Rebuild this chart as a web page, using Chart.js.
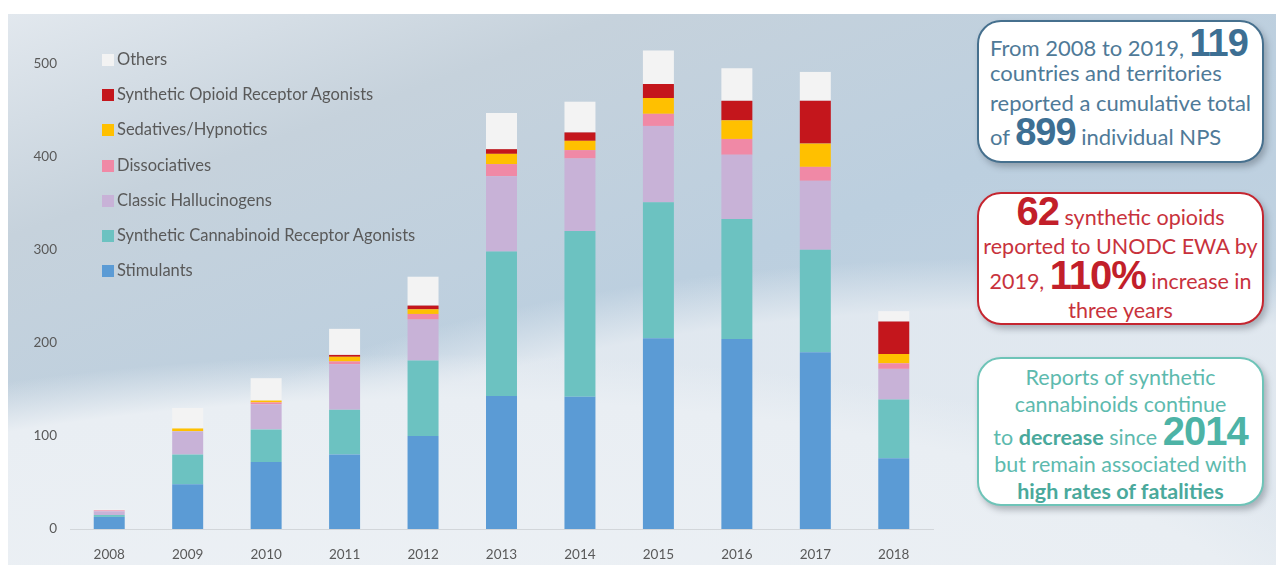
<!DOCTYPE html>
<html>
<head>
<meta charset="utf-8">
<script src="https://cdn.jsdelivr.net/npm/chart.js@4.4.1/dist/chart.umd.min.js"></script>
<style>
  html, body { margin: 0; padding: 0; background: #fff; }
  body { width: 1276px; height: 565px; position: relative; overflow: hidden; font-family: Lato, "Noto Sans", sans-serif; }
  #bg {
    position: absolute; left: 8px; top: 14px; width: 1268px; height: 551px;
    background:
      radial-gradient(ellipse 1000px 300px at 420px 640px, #edf1f5 0%, #e9eef3 85%, rgba(233,238,243,0) 100%),
      radial-gradient(ellipse 1300px 520px at 1000px 660px, rgba(226,233,240,0.95) 70%, rgba(226,233,240,0) 80%),
      linear-gradient(160deg, #e2e8ee 0%, #c6d2dc 22%, #bccfdf 50%, #c6d6e4 100%);
  }
  #wrap { position: absolute; left: 0; top: 0; width: 960px; height: 565px; }
  #legend { position: absolute; left: 102px; top: 49px; }
  .li { height: 35.2px; display: flex; align-items: flex-start; font-size: 16.5px; color: #595959; white-space: nowrap; }
  .li span.sw { width: 12px; height: 12px; margin: 5px 3px 0 0; display: inline-block; flex: none; }
  .box {
    position: absolute; left: 977px; width: 287px; background: #fff;
    border-radius: 24px; border: 2px solid; box-sizing: border-box;
    box-shadow: 3px 4px 6px rgba(60, 70, 80, 0.35);
  }
  #b1 { top: 20px; height: 143px; border-color: #46708e; color: #4f7a98; font-size: 22px; line-height: 29.5px; padding: 6px 0 0 11px; white-space: nowrap; }
  #b2 { top: 192px; height: 133px; border-color: #c52630; color: #c8323c; font-size: 21.5px; line-height: 29px; text-align: center; padding-top: 3px; }
  #b3 { top: 357px; height: 149px; border-color: #6ec4b8; color: #5dbaae; font-size: 21.5px; line-height: 27px; text-align: center; padding-top: 5px; }
  .big { font-family: "Liberation Sans", Arial, sans-serif; font-weight: bold; letter-spacing: -1px; }
  #b1 .big { font-size: 38px; color: #3d6f93; }
  #b2 .big { font-size: 40px; color: #c21f2a; }
  #b3 .big { font-size: 40px; color: #4db3a6; }
  #b3 b { color: #4aa99c; }
  #b2 .l, #b3 div { white-space: nowrap; }
</style>
</head>
<body>
<div id="bg"></div>
<div id="wrap"><canvas id="chart" width="960" height="565"></canvas></div>
<div id="legend"></div>

<div class="box" id="b1">
  <div style="height:30px;line-height:30px">From 2008 to 2019, <span class="big">119</span></div>
  <div>countries and territories</div>
  <div>reported a cumulative total</div>
  <div style="height:30px;line-height:30px">of <span class="big">899</span> individual NPS</div>
</div>
<div class="box" id="b2">
  <div class="l"><span class="big">62</span> synthetic opioids</div>
  <div class="l">reported to UNODC EWA by</div>
  <div class="l">2019, <span class="big">110%</span> increase in</div>
  <div class="l">three years</div>
</div>
<div class="box" id="b3">
  <div>Reports of synthetic</div>
  <div>cannabinoids continue</div>
  <div>to <b>decrease</b> since <span class="big">2014</span></div>
  <div>but remain associated with</div>
  <div><b>high rates of fatalities</b></div>
</div>

<script>
const years = ['2008', '2009', '2010', '2011', '2012', '2013', '2014', '2015', '2016', '2017', '2018'];
const seriesNames = ['Stimulants', 'Synthetic Cannabinoid Receptor Agonists', 'Classic Hallucinogens',
  'Dissociatives', 'Sedatives/Hypnotics', 'Synthetic Opioid Receptor Agonists', 'Others'];
const seriesColors = ['#5b9bd5', '#6cc2c1', '#c8b2d7', '#f089a6', '#ffc000', '#c4161c', '#f3f3f3'];

const stimulants    = [13, 48, 72, 80, 100, 143, 142, 205, 204, 190, 76];
const cannabinoids  = [2, 32, 35, 48, 81, 155, 178, 146, 129, 110, 63];
const hallucinogens = [4, 25, 27, 49, 44, 81, 78, 82, 69, 74, 33];
const dissociatives = [1, 0, 2, 3, 6, 13, 9, 13, 17, 15, 6];
const sedatives     = [0, 3, 2, 5, 5, 11, 10, 17, 20, 25, 10];
const opioids       = [0, 0, 0, 2, 4, 5, 9, 15, 21, 46, 35];
const others        = [1, 22, 24, 28, 31, 39, 33, 36, 35, 31, 11];

const seriesValues = [stimulants, cannabinoids, hallucinogens, dissociatives, sedatives, opioids, others];

const datasets = seriesNames.map((name, i) => ({
  label: name,
  data: seriesValues[i],
  backgroundColor: seriesColors[i],
  borderWidth: 0,
  categoryPercentage: 1,
  barPercentage: 0.395
}));

// legend, top item first
const legendEl = document.getElementById('legend');
for (let i = seriesNames.length - 1; i >= 0; i--) {
  const row = document.createElement('div');
  row.className = 'li';
  row.innerHTML = `<span class="sw" style="background:${seriesColors[i]}"></span>${seriesNames[i]}`;
  legendEl.appendChild(row);
}

new Chart(document.getElementById('chart'), {
  type: 'bar',
  data: { labels: years, datasets },
  options: {
    responsive: false,
    animation: false,
    devicePixelRatio: 1,
    layout: { padding: { top: 17, right: 27, left: 0, bottom: 0 } },
    plugins: { legend: { display: false }, tooltip: { enabled: false } },
    scales: {
      x: {
        stacked: true,
        grid: { display: false },
        border: { color: '#d2d6da' },
        ticks: { color: '#595959', font: { family: 'Lato', size: 13.5 }, padding: 10 },
        afterFit: s => { s.height = 36; }
      },
      y: {
        stacked: true,
        min: 0,
        max: 550,
        grid: { display: false },
        border: { display: false },
        ticks: { stepSize: 100, color: '#595959', font: { family: 'Lato', size: 13.5 }, padding: 5 },
        afterBuildTicks: s => { s.ticks = s.ticks.filter(t => t.value % 100 === 0); },
        afterFit: s => { s.width = 70; }
      }
    }
  }
});
</script>
</body>
</html>
